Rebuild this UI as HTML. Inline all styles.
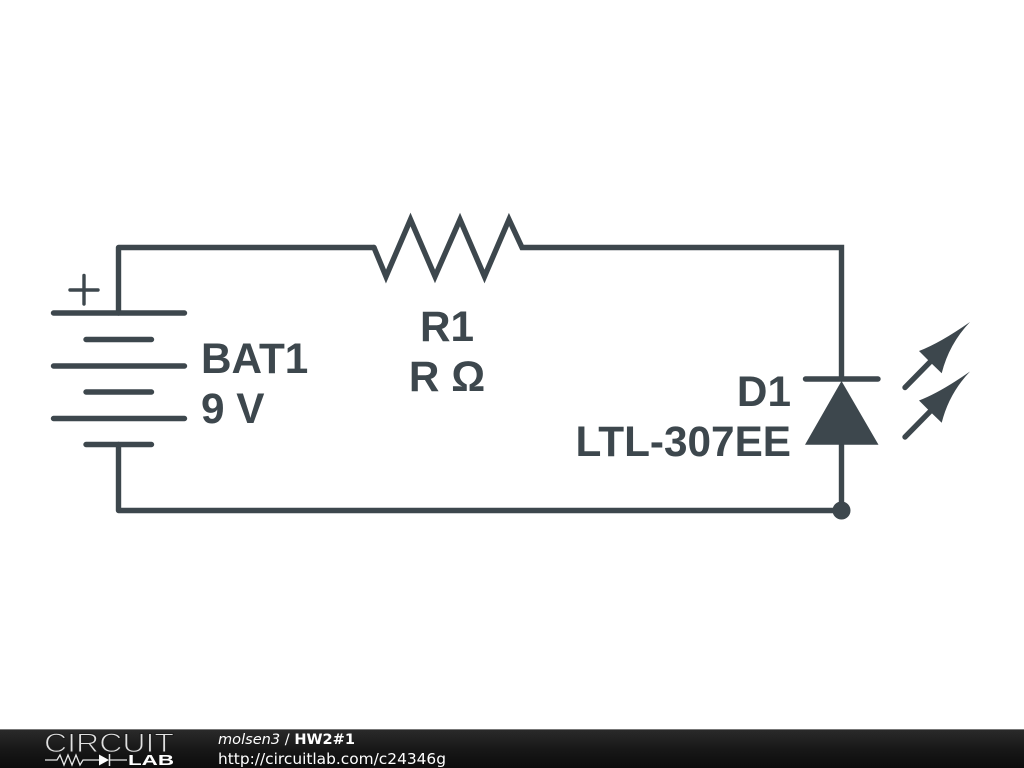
<!DOCTYPE html>
<html><head><meta charset="utf-8"><style>
html,body{margin:0;padding:0;background:#fff;width:1024px;height:768px;overflow:hidden}
svg{display:block}
</style></head><body>
<svg width="1024" height="768" viewBox="0 0 1024 768" xmlns="http://www.w3.org/2000/svg">
<defs><linearGradient id="g" x1="0" y1="0" x2="0" y2="1"><stop offset="0" stop-color="#2b2b2b"/><stop offset="0.5" stop-color="#181818"/><stop offset="1" stop-color="#0c0c0c"/></linearGradient></defs>
<rect width="1024" height="768" fill="#fff"/>
<g fill="none" stroke="#3d474d" stroke-width="5.4" stroke-linecap="round" stroke-linejoin="round">
<path d="M118.5 313V247.5H374"/>
<path stroke-linejoin="miter" stroke-miterlimit="10" d="M374 247.5L386 276.5L410.5 219.5L435 276.5L460 219.5L484.5 276.5L509 219.5L522 247.5H841.5V379"/>
<path d="M118.5 444.5V510.5H841.5V444"/>
<path d="M53.5 313H184.5M86 339.5H151.5M53.5 366H184.5M86 392H151.5M53.5 418.5H184.5M86 444.5H151.5"/>
<path d="M805.5 379H878"/>
<path stroke-width="3.4" d="M70 290H98M84 275.5V304"/>
<path d="M905 387.5L934 358M905 437L934 407.5"/>
</g>
<g fill="#3d474d">
<path d="M841.5 381L878.5 444.7H805Z"/>
<circle cx="841.5" cy="510.5" r="9"/>
<path d="M970 322Q940 343 919 351L930 362L941.7 373.3Q949 344 970 322Z"/>
<path d="M970 371.5Q940 392.5 919 400.5L930 411.5L941.7 422.8Q949 393.5 970 371.5Z"/>
</g>
<g font-family="'Liberation Sans',sans-serif" font-weight="700" font-size="42.3" fill="#3d474d">
<text x="201" y="373">BAT1</text>
<text x="201" y="423">9 V</text>
<text x="447" y="341" text-anchor="middle">R1</text>
<text x="447" y="391" text-anchor="middle">R Ω</text>
<text x="791" y="406" text-anchor="end">D1</text>
<text x="791" y="456" text-anchor="end">LTL-307EE</text>
</g>
<rect x="0" y="729" width="1024" height="39" fill="url(#g)"/>
<rect x="0" y="729" width="1024" height="1" fill="#777"/>
<text x="44" y="752" font-family="'Liberation Sans',sans-serif" font-size="27" fill="#e0e0e0" stroke="#1d1d1d" stroke-width="1" textLength="130" lengthAdjust="spacingAndGlyphs">CIRCUIT</text>
<text x="128" y="765" font-family="'Liberation Sans',sans-serif" font-weight="700" font-size="15" fill="#fff" textLength="46" lengthAdjust="spacingAndGlyphs">LAB</text>
<g fill="none" stroke="#e8e8e8" stroke-width="1.3">
<path d="M45 760H57L60 755L64 765L68 755L72 765L76 755L80 765L83 760H100M110 760H127"/>
<path stroke-width="1.5" d="M109.5 754V766"/>
</g>
<path d="M99 754.5L109 760L99 765.5Z" fill="#fff"/>
<g font-family="'DejaVu Sans',sans-serif" font-size="15" fill="#fff">
<text x="218" y="744" font-size="14.6" textLength="137" lengthAdjust="spacingAndGlyphs"><tspan font-style="italic">molsen3</tspan> / <tspan font-weight="700">HW2#1</tspan></text>
<text x="218" y="764" textLength="228" lengthAdjust="spacingAndGlyphs">http://circuitlab.com/c24346g</text>
</g>
</svg>
</body></html>
